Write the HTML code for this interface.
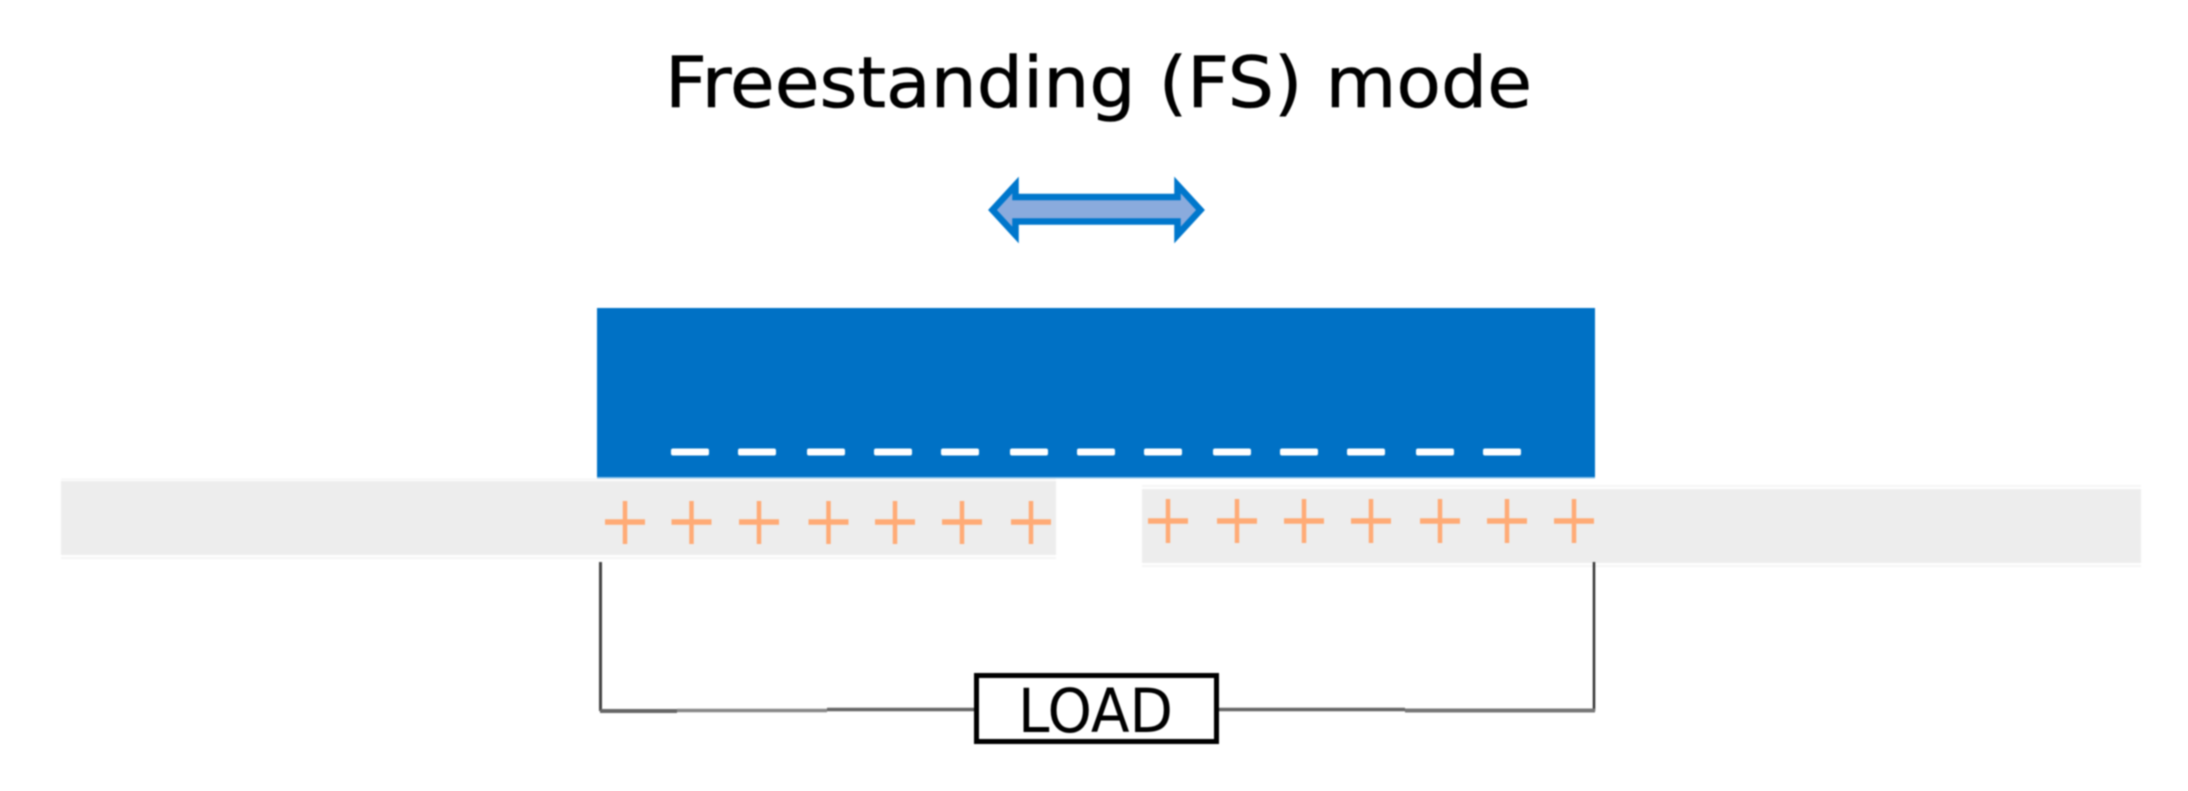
<!DOCTYPE html>
<html><head><meta charset="utf-8"><style>
html,body{margin:0;padding:0;background:#fff;width:2188px;height:791px;overflow:hidden}
svg{display:block;filter:blur(0.7px)}
</style></head><body>
<svg width="2188" height="791" viewBox="0 0 2188 791" xmlns="http://www.w3.org/2000/svg">
<rect width="2188" height="791" fill="#fff"/>
<text x="665" y="107" font-family="'DejaVu Sans',sans-serif" font-size="70" textLength="867" lengthAdjust="spacingAndGlyphs" fill="#000" stroke="#000" stroke-width="0.6">Freestanding (FS) mode</text>
<polygon points="992.5,210 1015.5,185 1015.5,197 1177.5,197 1177.5,185 1200.5,210 1177.5,235 1177.5,221.5 1015.5,221.5 1015.5,235" fill="#8AABDD" stroke="#0077CC" stroke-width="6.5" stroke-linejoin="miter"/>
<rect x="597" y="308" width="998" height="170" fill="#0071C5"/>
<rect x="597" y="477" width="998" height="1.5" fill="#8cc4ec"/>
<g fill="#fff">
<rect x="671" y="448.5" width="38" height="7" rx="2"/><rect x="738" y="448.5" width="38" height="7" rx="2"/><rect x="807" y="448.5" width="38" height="7" rx="2"/><rect x="874" y="448.5" width="38" height="7" rx="2"/><rect x="941" y="448.5" width="38" height="7" rx="2"/><rect x="1010" y="448.5" width="38" height="7" rx="2"/><rect x="1077" y="448.5" width="38" height="7" rx="2"/><rect x="1144" y="448.5" width="38" height="7" rx="2"/><rect x="1213" y="448.5" width="38" height="7" rx="2"/><rect x="1280" y="448.5" width="38" height="7" rx="2"/><rect x="1347" y="448.5" width="38" height="7" rx="2"/><rect x="1416" y="448.5" width="38" height="7" rx="2"/><rect x="1483" y="448.5" width="38" height="7" rx="2"/>
</g>
<rect x="61" y="478.5" width="995" height="1.5" fill="#f5f5f5"/>
<rect x="61" y="481" width="995" height="74" fill="#EDEDED"/>
<rect x="61" y="557" width="995" height="2" fill="#f5f5f5"/>
<rect x="1142" y="485" width="999" height="2" fill="#f5f5f5"/>
<rect x="1142" y="489" width="999" height="74" fill="#EDEDED"/>
<rect x="1142" y="565" width="999" height="2" fill="#f5f5f5"/>
<g stroke="#FFAB76" fill="none">
<g stroke-width="5.5"><path d="M605 522H645M671.5 522H711.5M739 522H779M808.5 522H848.5M875 522H915M942 522H982M1011 522H1051"/><path d="M1148 521H1188M1217 521H1257M1284 521H1324M1351 521H1391M1420 521H1460M1487 521H1527M1554 521H1594"/></g>
<g stroke-width="4.5"><path d="M625 501V544M691.5 501V544M759 501V544M828.5 501V544M895 501V544M962 501V544M1031 501V544"/><path d="M1168 499V543M1237 499V543M1304 499V543M1371 499V543M1440 499V543M1507 499V543M1574 499V543"/></g>
</g>
<path d="M600.5 562V711" stroke="#444" stroke-width="3" fill="none"/>
<path d="M1594 562V711" stroke="#333" stroke-width="2.5" fill="none"/>
<path d="M600 711H677" stroke="#666" stroke-width="4" fill="none"/>
<path d="M677 710.5H827" stroke="#888" stroke-width="3.5" fill="none"/>
<path d="M827 709.5H975" stroke="#666" stroke-width="3.5" fill="none"/>
<path d="M1218 709.5H1405" stroke="#666" stroke-width="3.5" fill="none"/>
<path d="M1405 710.5H1595" stroke="#777" stroke-width="4" fill="none"/>
<rect x="976.5" y="675.5" width="240" height="66" fill="#fff" stroke="#000" stroke-width="5"/>
<text x="1018" y="732" font-family="'DejaVu Sans',sans-serif" font-size="61" textLength="155" lengthAdjust="spacingAndGlyphs" fill="#000">LOAD</text>
</svg>
</body></html>
